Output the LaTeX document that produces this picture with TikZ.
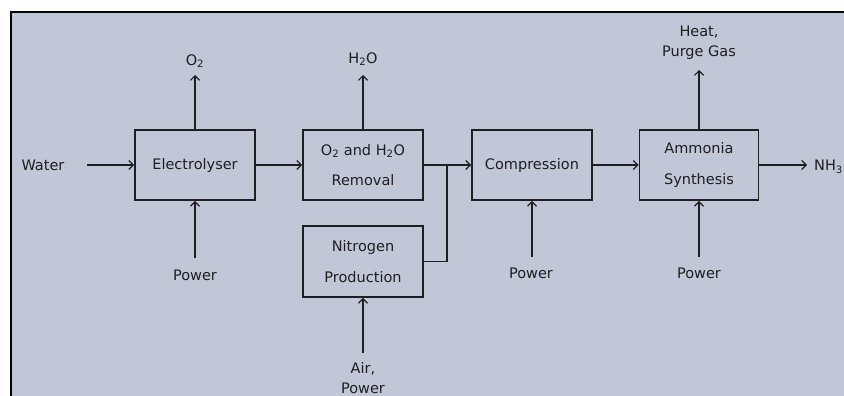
\documentclass[tikz,border=0pt]{standalone}
\usepackage{fontspec}
\setmainfont{DejaVu Sans}
\usetikzlibrary{arrows.meta}
\definecolor{bg}{RGB}{193,199,215}
\definecolor{ink}{RGB}{30,30,35}
\begin{document}
\begin{tikzpicture}[x=1pt,y=-1pt,
  box/.style={draw=ink, line width=1.8pt, minimum width=120pt, minimum height=70pt,
    align=center, inner sep=0pt, text=ink, font=\fontsize{14.5}{30.5}\selectfont},
  lbl/.style={text=ink, align=center, inner sep=0pt, font=\fontsize{14.5}{20}\selectfont},
  arr/.style={draw=ink, line width=1.2pt, -{Straight Barb[length=4.5pt,width=9pt]}},
  ln/.style={draw=ink, line width=1.2pt}]
\useasboundingbox (0,0) rectangle (844,396);
\fill[white] (0,0) rectangle (844,396);
\fill[bg] (11,12) rectangle (844,396);
\draw[line width=1.5pt, black] (11,396) -- (11,12) -- (844,12);

% boxes
\node[box] (elec) at (195,165) {Electrolyser};
\node[box] (rem) at (363,165) {O\textsubscript{2} and H\textsubscript{2}O\\Removal};
\node[box] (comp) at (532,165) {Compression};
\node[box, minimum width=119pt] (amm) at (699,165) {Ammonia\\Synthesis};
\node[box, minimum height=71pt] (nit) at (363,261.5) {Nitrogen\\Production};

% labels
\node[lbl] (water) at (43,165) {Water};
\node[lbl] (o2) at (195,61) {O\textsubscript{2}};
\node[lbl] (h2o) at (363,59) {H\textsubscript{2}O};
\node[lbl] (heat) at (699,43) {Heat,\\Purge Gas};
\node[lbl, anchor=west] (nh3) at (814,167) {NH\textsubscript{3}};
\node[lbl] (pow1) at (195,275) {Power};
\node[lbl] (pow2) at (531,273) {Power};
\node[lbl] (pow3) at (699,273) {Power};
\node[lbl] (air) at (363,378) {Air,\\Power};

% free ends
\coordinate (cw) at (87,165);
\coordinate (co2) at (195,75);
\coordinate (ch2o) at (363,75);
\coordinate (cheat) at (699,70);
\coordinate (cnh3) at (807,165);
\coordinate (cp1) at (195,258);
\coordinate (cp2) at (532,257);
\coordinate (cp3) at (699,257);
\coordinate (cair) at (363,353);
\coordinate (j) at (447,165);

% connectors
\draw[arr] (cw) -- (elec.west);
\draw[arr] (elec.north) -- (co2);
\draw[arr] (elec.east) -- (rem.west);
\draw[arr] (rem.north) -- (ch2o);
\draw[arr] (rem.east) -- (comp.west);
\draw[ln] (nit.east) -| (j);
\draw[arr] (comp.east) -- (amm.west);
\draw[arr] (amm.north) -- (cheat);
\draw[arr] (amm.east) -- (cnh3);
\draw[arr] (cp1) -- (elec.south);
\draw[arr] (cp2) -- (comp.south);
\draw[arr] (cp3) -- (amm.south);
\draw[arr] (cair) -- (nit.south);
\end{tikzpicture}
\end{document}
